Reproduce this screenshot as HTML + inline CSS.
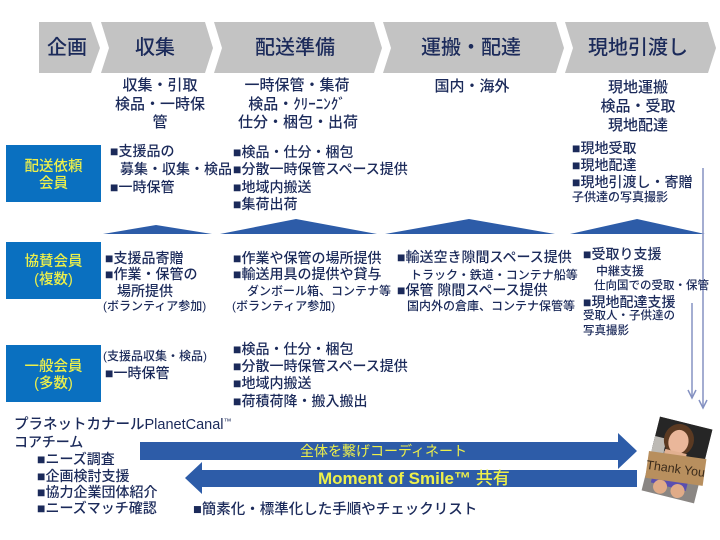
<!DOCTYPE html>
<html><head><meta charset="utf-8">
<style>
html,body{margin:0;padding:0;background:#fff;}
#w{position:relative;width:720px;height:540px;overflow:hidden;background:#fff;font-family:"Liberation Sans","Noto Sans CJK JP",sans-serif;color:#1b2a5a;}
.t{position:absolute;white-space:nowrap;line-height:1;font-weight:500;}
.c{text-align:center;width:200px;}
.h{font-size:20px;color:#1b2a5a;}
.s{font-size:15px;}
.r{font-size:14px;}
.m{font-size:12px;}
.y{color:#eef04a;font-size:14.5px;text-align:center;width:95px;}
svg{position:absolute;left:0;top:0;}
</style></head><body><div id="w">
<svg width="720" height="540" viewBox="0 0 720 540">
  <!-- header chevrons -->
  <g fill="#c3c3c3">
    <polygon points="39,22 91,22 100,48 91,73 39,73"/>
    <polygon points="101,22 205,22 213,48 205,73 101,73 109,48"/>
    <polygon points="214,22 374,22 382,48 374,73 214,73 222,48"/>
    <polygon points="383,22 556,22 564,48 556,73 383,73 391,48"/>
    <polygon points="565,22 708,22 716,48 708,73 565,73 573,48"/>
  </g>
  <!-- blue boxes -->
  <g fill="#0a70c0">
    <rect x="6" y="145" width="95" height="57"/>
    <rect x="6" y="242" width="95" height="57"/>
    <rect x="6" y="345" width="95" height="57"/>
  </g>
  <!-- triangles -->
  <g fill="#2d5ca8">
    <polygon points="103,234 156,225 212,234"/>
    <polygon points="220,234 296,219 377,234"/>
    <polygon points="385,234 469,219 555,234"/>
    <polygon points="570,234 637,219 705,234"/>
  </g>
  <!-- vertical lines -->
  <g stroke="#8592c2" stroke-width="1.5" fill="none">
    <line x1="703" y1="168" x2="703" y2="408"/>
    <polyline points="699,400 703,408 707,400"/>
    <line x1="692" y1="303" x2="692" y2="398"/>
    <polyline points="688,390 692,398 696,390"/>
  </g>
  <!-- arrows -->
  <polygon fill="#2d5ca8" points="140,442 618,442 618,433 637,451 618,469 618,460 140,460"/>
  <polygon fill="#2d5ca8" points="637,470 202,470 202,462 185,478 202,494 202,487 637,487"/>
  <!-- photo -->
  <g transform="translate(677,460) rotate(14)">
    <rect x="-27" y="-38" width="54" height="76" fill="#8a8683"/>
    <rect x="-27" y="-38" width="54" height="32" fill="#262626"/>
    <rect x="-27" y="-18" width="12" height="40" fill="#bdbab5"/>
    <ellipse cx="-3" cy="-20" rx="15" ry="16" fill="#5b3a22"/>
    <ellipse cx="-3" cy="-18" rx="10" ry="12" fill="#eab79a"/>
    <rect x="-14" y="-8" width="22" height="10" fill="#e2b090"/>
    <rect x="-20" y="20" width="36" height="8" fill="#5a4fb0"/>
    <ellipse cx="-10" cy="30" rx="7" ry="7" fill="#e0ab88"/>
    <ellipse cx="8" cy="30" rx="7" ry="7" fill="#e0ab88"/>
    <g transform="rotate(-6)">
      <rect x="-29" y="-5" width="58" height="27" fill="#b88f5e"/>
      <text x="0" y="13" text-anchor="middle" font-family="Liberation Sans, sans-serif" font-size="12.5" fill="#3a2a1a">Thank You</text>
    </g>
  </g>
</svg>

<!-- header text -->
<div class="t h c" style="left:-33px;top:38px;">企画</div>
<div class="t h c" style="left:55px;top:38px;">収集</div>
<div class="t h c" style="left:195px;top:38px;">配送準備</div>
<div class="t h c" style="left:371px;top:38px;">運搬・配達</div>
<div class="t h c" style="left:538px;top:38px;">現地引渡し</div>

<!-- sub labels -->
<div class="t s c" style="left:60px;top:78px;">収集・引取</div>
<div class="t s c" style="left:60px;top:97px;">検品・一時保</div>
<div class="t s c" style="left:60px;top:115px;">管</div>
<div class="t s c" style="left:197px;top:78px;">一時保管・集荷</div>
<div class="t s c" style="left:197px;top:97px;">検品・ｸﾘｰﾆﾝｸﾞ</div>
<div class="t s c" style="left:198px;top:115px;">仕分・梱包・出荷</div>
<div class="t s c" style="left:372px;top:79px;">国内・海外</div>
<div class="t s c" style="left:538px;top:80px;">現地運搬</div>
<div class="t s c" style="left:538px;top:99px;">検品・受取</div>
<div class="t s c" style="left:538px;top:118px;">現地配達</div>

<!-- box labels -->
<div class="t y" style="left:6px;top:160px;">配送依頼</div>
<div class="t y" style="left:6px;top:177px;">会員</div>
<div class="t y" style="left:6px;top:255px;">協賛会員</div>
<div class="t y" style="left:6px;top:273px;">(複数)</div>
<div class="t y" style="left:6px;top:360px;">一般会員</div>
<div class="t y" style="left:6px;top:377px;">(多数)</div>

<!-- row 1 -->
<div class="t r" style="left:110px;top:144px;">■支援品の</div>
<div class="t r" style="left:120px;top:162px;">募集・収集・検品</div>
<div class="t r" style="left:110px;top:180px;">■一時保管</div>
<div class="t r" style="left:233px;top:145px;">■検品・仕分・梱包</div>
<div class="t r" style="left:233px;top:162px;">■分散一時保管スペース提供</div>
<div class="t r" style="left:233px;top:180px;">■地域内搬送</div>
<div class="t r" style="left:233px;top:197px;">■集荷出荷</div>
<div class="t r" style="left:572px;top:141px;">■現地受取</div>
<div class="t r" style="left:572px;top:158px;">■現地配達</div>
<div class="t r" style="left:572px;top:175px;">■現地引渡し・寄贈</div>
<div class="t m" style="left:572px;top:191px;">子供達の写真撮影</div>

<!-- row 2 -->
<div class="t r" style="left:105px;top:251px;">■支援品寄贈</div>
<div class="t r" style="left:105px;top:267px;">■作業・保管の</div>
<div class="t r" style="left:117px;top:284px;">場所提供</div>
<div class="t m" style="left:103px;top:300px;">(ボランティア参加)</div>
<div class="t r" style="left:233px;top:251px;">■作業や保管の場所提供</div>
<div class="t r" style="left:233px;top:267px;">■輸送用具の提供や貸与</div>
<div class="t m" style="left:247px;top:285px;">ダンボール箱、コンテナ等</div>
<div class="t m" style="left:232px;top:300px;">(ボランティア参加)</div>
<div class="t r" style="left:397px;top:250px;">■輸送空き隙間スペース提供</div>
<div class="t m" style="left:410px;top:269px;">トラック・鉄道・コンテナ船等</div>
<div class="t r" style="left:397px;top:283px;">■保管 隙間スペース提供</div>
<div class="t m" style="left:407px;top:300px;">国内外の倉庫、コンテナ保管等</div>
<div class="t r" style="left:583px;top:247px;">■受取り支援</div>
<div class="t m" style="left:596px;top:265px;">中継支援</div>
<div class="t m" style="left:594px;top:281px;font-size:11.5px;">仕向国での受取・保管</div>
<div class="t r" style="left:583px;top:295px;">■現地配達支援</div>
<div class="t m" style="left:583px;top:311px;font-size:11.5px;">受取人・子供達の</div>
<div class="t m" style="left:583px;top:326px;font-size:11.5px;">写真撮影</div>

<!-- row 3 -->
<div class="t m" style="left:103px;top:350px;">(支援品収集・検品)</div>
<div class="t r" style="left:105px;top:366px;">■一時保管</div>
<div class="t r" style="left:233px;top:342px;">■検品・仕分・梱包</div>
<div class="t r" style="left:233px;top:359px;">■分散一時保管スペース提供</div>
<div class="t r" style="left:233px;top:376px;">■地域内搬送</div>
<div class="t r" style="left:233px;top:394px;">■荷積荷降・搬入搬出</div>

<!-- bottom -->
<div class="t r" style="left:14px;top:418px;font-size:14.5px;">プラネットカナールPlanetCanal<span style="font-size:8px;vertical-align:5px;">™</span></div>
<div class="t r" style="left:14px;top:435px;">コアチーム</div>
<div class="t r" style="left:37px;top:452px;">■ニーズ調査</div>
<div class="t r" style="left:37px;top:469px;">■企画検討支援</div>
<div class="t r" style="left:37px;top:485px;">■協力企業団体紹介</div>
<div class="t r" style="left:37px;top:501px;">■ニーズマッチ確認</div>
<div class="t r" style="left:193px;top:503px;font-size:14.5px;">■簡素化・標準化した手順やチェックリスト</div>

<div class="t" style="left:300px;top:444px;font-size:14px;color:#eef04a;font-weight:normal;">全体を繋げコーディネート</div>
<div class="t" style="left:318px;top:470px;font-size:17px;color:#eef04a;"><b>Moment of Smile™</b> 共有</div>
</div></body></html>
